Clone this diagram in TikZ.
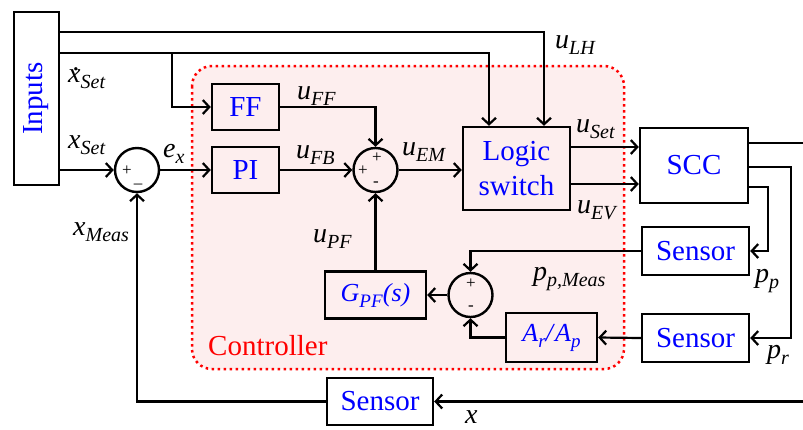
\documentclass[tikz,border=0pt]{standalone}
\usepackage{fontspec}
\setmainfont{Liberation Serif}
\usetikzlibrary{arrows.meta,calc}
\definecolor{ctrlfill}{RGB}{253,238,238}
\newcommand{\lbx}[2]{\textit{#1}\raisebox{-6pt}{\fontsize{20}{20}\selectfont\textit{#2}}}
\newcommand{\blx}[2]{\textit{#1}\raisebox{-6pt}{\fontsize{19}{19}\selectfont\textit{#2}}}
\newcommand{\xdot}{\makebox[0pt][l]{\hspace{5pt}\raisebox{12pt}{.}}\textit{x}}
\begin{document}
\begin{tikzpicture}[x=1pt,y=-1pt,
  blk/.style={draw, line width=2.4pt, inner sep=0pt, text=blue, font=\fontsize{29}{35}\selectfont, align=center},
  sumc/.style={draw, circle, line width=2.4pt, minimum size=44pt, inner sep=0pt},
  conn/.style={line width=2.2pt, -{Straight Barb[length=6.5pt,width=14pt,line width=2.2pt]}},
  wire/.style={line width=2.2pt},
  lbl/.style={anchor=base west, inner sep=0pt, font=\fontsize{28}{28}\selectfont},
  sgn/.style={inner sep=0pt, font=\fontsize{17}{17}\selectfont}]
\useasboundingbox (0,0) rectangle (803,429);
% controller region
\draw[red, line width=2.5pt, dash pattern=on 2.5pt off 3.5pt, rounded corners=20pt, fill=ctrlfill] (192,66) rectangle (624,369);
\node[text=red, font=\fontsize{29}{29}\selectfont, anchor=base west, inner sep=0pt] (ctl) at (208,355) {Controller};
% blocks
\node[blk, rotate=90, minimum width=173pt, minimum height=45pt] (inp) at (36.5,98.5) {Inputs};
\node[blk, minimum width=67pt, minimum height=46pt] (ff) at (245.5,107) {FF};
\node[blk, minimum width=67pt, minimum height=46pt] (pi) at (245.5,170) {PI};
\node[sumc] (s1) at (137,170) {};
\node[sumc] (s2) at (375.5,170) {};
\node[blk, minimum width=107pt, minimum height=83pt] (lg) at (516.5,168.5) {Logic\\switch};
\node[blk, minimum width=108pt, minimum height=75pt] (scc) at (694,165.5) {SCC};
\node[blk, minimum width=107pt, minimum height=48pt] (sen1) at (695.5,251) {Sensor};
\node[blk, minimum width=107pt, minimum height=48pt] (sen2) at (695.5,338) {Sensor};
\node[blk, minimum width=106pt, minimum height=47pt] (sen3) at (380,401.5) {Sensor};
\node[sumc] (s3) at (470.5,295) {};
\node[blk, minimum width=91pt, minimum height=49pt, font=\fontsize{26}{26}\selectfont] (ab) at (551.5,337.5) {\blx{A}{r}\textit{/}\blx{A}{p}};
\node[blk, minimum width=101pt, minimum height=47pt, font=\fontsize{26}{26}\selectfont] (gp) at (375.5,295) {\blx{G}{PF}\textit{(s)}};
% signs
\node[sgn] (p1a) at (127,171) {+};
\node[sgn] (m1a) at (138,186) {--};
\node[sgn] (p2a) at (377,158) {+};
\node[sgn] (p2b) at (363,171) {+};
\node[sgn] (m2a) at (376,184) {-};
\node[sgn] (p3a) at (471,284) {+};
\node[sgn] (m3a) at (471,308) {-};
% helper coordinates
\coordinate (br) at (172,53);
\coordinate (outR) at (803,143);
\coordinate (inR) at (803,401.5);
\coordinate (ls1) at ([yshift=21.5pt]lg.east);
\coordinate (ls2) at ([yshift=-15.5pt]lg.east);
\coordinate (inTR) at (59,12);
% connectors
\draw[conn] ([yshift=-20pt]inTR) -| ([xshift=27.5pt]lg.north);
\draw[conn] ([yshift=-41pt]inTR) -| ([xshift=-27.5pt]lg.north);
\draw[conn] (br) |- (ff.west);
\draw[conn] (inTR |- s1.west) -- (s1.west);
\draw[conn] (s1.east) -- (pi.west);
\draw[conn] (ff.east) -| (s2.north);
\draw[conn] (pi.east) -- (s2.west);
\draw[conn] (s2.east) -- (s2.east -| lg.west);
\draw[conn] (ls1) -- (ls1 -| scc.west);
\draw[conn] (ls2) -- (ls2 -| scc.west);
\draw[wire] ([yshift=22.5pt]scc.east) -- (outR);
\draw[conn] ([yshift=-1.5pt]scc.east) -- ++(42,0) |- (sen2.east);
\draw[conn] ([yshift=-21.5pt]scc.east) -- ++(19,0) |- (sen1.east);
\draw[conn] (sen1.west) -| (s3.north);
\draw[conn] (sen2.west) -- (ab.east);
\draw[conn] (ab.west) -| (s3.south);
\draw[conn] (s3.west) -- (gp.east);
\draw[conn] (gp.north) -- (s2.south);
\draw[conn] (inR) -- (sen3.east);
\draw[conn] (sen3.west) -| (s1.south);
% labels
\node[lbl] (lxd) at (68,82) {\lbx{\xdot}{Set}};
\node[lbl] (lxs) at (68,148) {\lbx{x}{Set}};
\node[lbl] (lex) at (163,157) {\lbx{e}{x}};
\node[lbl] (luff) at (297,99) {\lbx{u}{FF}};
\node[lbl] (lufb) at (296,158) {\lbx{u}{FB}};
\node[lbl] (luem) at (402,155) {\lbx{u}{EM}};
\node[lbl] (lulh) at (555,48) {\lbx{u}{LH}};
\node[lbl] (lust) at (576,132) {\lbx{u}{Set}};
\node[lbl] (luev) at (577,213) {\lbx{u}{EV}};
\node[lbl] (lxm) at (73,235) {\lbx{x}{Meas}};
\node[lbl] (lupf) at (313,242) {\lbx{u}{PF}};
\node[lbl] (lppm) at (533,280) {\lbx{p}{p,Meas}};
\node[lbl] (lpp) at (755,282) {\lbx{p}{p}};
\node[lbl] (lpr) at (767,358) {\lbx{p}{r}};
\node[lbl] (lx) at (465,423) {\textit{x}};
\end{tikzpicture}
\end{document}
